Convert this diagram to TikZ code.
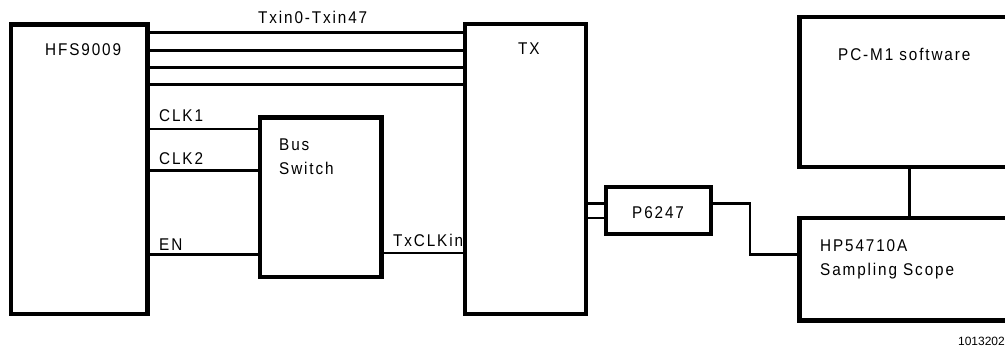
\documentclass[tikz,border=0pt]{standalone}
\usepackage{fontspec}
\newfontfamily\lblfont{Liberation Sans}[LetterSpace=11,FakeStretch=0.9]
\newfontfamily\footfont{Liberation Sans}
\begin{document}
\begin{tikzpicture}[x=1pt,y=-1pt,
  blk/.style={draw=black,line width=4.5pt,outer sep=0pt,inner sep=0pt,fill=none},
  bus/.style={line width=3pt},
  wire/.style={line width=2.6pt},
  lbl/.style={inner sep=0pt,anchor=base west,font=\lblfont\fontsize{17}{19}\selectfont},
  foot/.style={inner sep=0pt,anchor=base east,font=\footfont\fontsize{12}{14}\selectfont}]
\useasboundingbox (0,0) rectangle (1005,354);
\clip (0,0) rectangle (1005,354);
% boxes
\node[blk,minimum width=136.5pt,minimum height=289.5pt] (hfs) at (79.25,169.25) {};
\node[blk,minimum width=121pt,minimum height=290pt] (tx) at (525.5,169) {};
\node[blk,minimum width=121.5pt,minimum height=159.5pt] (bs) at (320.75,197.25) {};
\node[blk,minimum width=105pt,minimum height=47pt] (p6) at (658.5,210.5) {};
\node[blk,minimum width=220.5pt,minimum height=150pt] (pc) at (909.75,92) {};
\node[blk,minimum width=220.5pt,minimum height=102.5pt] (scope) at (909.75,269.25) {};
% labels
\node[lbl] (lhfs) at (45,55) {HFS9009};
\node[lbl] (ltxin) at (258,23.3) {Txin0-Txin47};
\node[lbl] (ltx) at (518,54) {TX};
\node[lbl] (lpc) at (838,60) {PC-M1 software};
\node[lbl] (lhp) at (820,251.7) {HP54710A};
\node[lbl] (lss) at (820,275) {Sampling Scope};
\node[lbl] (lclk1) at (159,121.7) {CLK1};
\node[lbl] (lclk2) at (159,164) {CLK2};
\node[lbl] (len) at (159,250) {EN};
\node[lbl] (lbus) at (279,150) {Bus};
\node[lbl] (lsw) at (279,174) {Switch};
\node[lbl] (ltxclk) at (393,246) {TxCLKin};
\node[lbl] (lp6) at (632,218) {P6247};
\node[foot] (lfoot) at (1005,345) {1013202};
% bus lines
\foreach \yy in {32.5,50,67.7,84.7}
  \draw[bus] (hfs.east |- 0,\yy) -- (tx.west |- 0,\yy);
% clock/enable wires
\draw[wire] (hfs.east |- 0,129) -- (bs.west |- 0,129);
\draw[wire] (hfs.east |- 0,170.5) -- (bs.west |- 0,170.5);
\draw[wire] (hfs.east |- 0,254.7) -- (bs.west |- 0,254.7);
\draw[wire] (bs.east |- 0,253) -- (tx.west |- 0,253);
% probe
\draw[wire] (tx.east |- 0,203.2) -- (p6.west |- 0,203.2);
\draw[wire] (tx.east |- 0,218) -- (p6.west |- 0,218);
\coordinate (bend) at (750,254.3);
\draw[wire] (p6.east |- 0,203.2) -| (bend) -- (scope.west |- bend);
\draw[wire] (pc.south) -- (scope.north);
\end{tikzpicture}
\end{document}
